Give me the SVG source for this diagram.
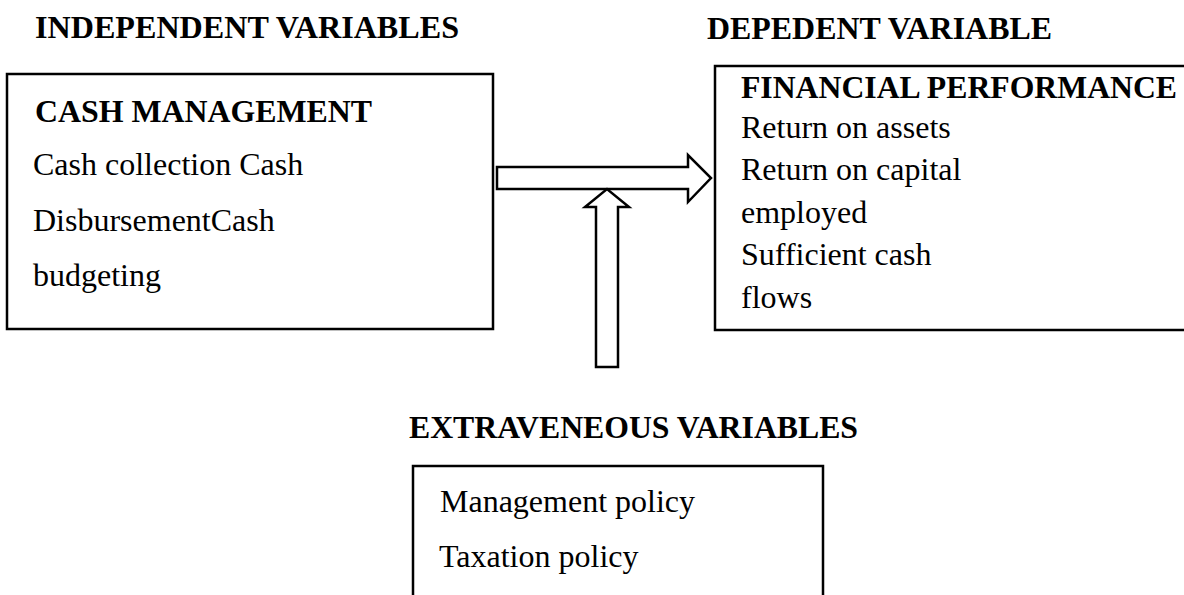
<svg xmlns="http://www.w3.org/2000/svg" width="1184" height="595" viewBox="0 0 1184 595">
<style>
text{font-family:"Liberation Serif","Times New Roman",serif;font-size:32px;fill:#000}
.b{font-weight:bold}
.box{fill:none;stroke:#000;stroke-width:2.5}
.arr{fill:#fff;stroke:#000;stroke-width:2.5;stroke-linejoin:miter}
</style>
<rect width="1184" height="595" fill="#fff"/>
<g id="titles">
<text class="b" x="35" y="38" textLength="424" lengthAdjust="spacingAndGlyphs">INDEPENDENT VARIABLES</text>
<text class="b" x="707" y="39" textLength="345" lengthAdjust="spacingAndGlyphs">DEPEDENT VARIABLE</text>
</g>
<g id="cash-management">
<rect class="box" x="7" y="74" width="486" height="255"/>
<text class="b" x="35" y="122" textLength="337" lengthAdjust="spacingAndGlyphs">CASH MANAGEMENT</text>
<text x="33" y="175">Cash collection Cash</text>
<text x="33" y="231">DisbursementCash</text>
<text x="33" y="286">budgeting</text>
</g>
<g id="financial-performance">
<rect class="box" x="715" y="66" width="500" height="264"/>
<text class="b" x="741" y="98" textLength="436" lengthAdjust="spacingAndGlyphs">FINANCIAL PERFORMANCE</text>
<text x="741" y="138">Return on assets</text>
<text x="741" y="180">Return on capital</text>
<text x="741" y="223">employed</text>
<text x="741" y="265">Sufficient cash</text>
<text x="741" y="308">flows</text>
</g>
<g id="extraneous">
<text class="b" x="409" y="438" textLength="449" lengthAdjust="spacingAndGlyphs">EXTRAVENEOUS VARIABLES</text>
<path class="box" d="M413,600 V466 H823 V600"/>
<text x="440" y="512">Management policy</text>
<text x="439" y="567">Taxation policy</text>
</g>
<g id="connectors">
<polygon class="arr" points="497,167 688,167 688,155 711,178 688,202 688,189 497,189"/>
<polygon class="arr" points="596,367 596,207 585,207 607,189 629,207 618,207 618,367"/>
</g>
</svg>
